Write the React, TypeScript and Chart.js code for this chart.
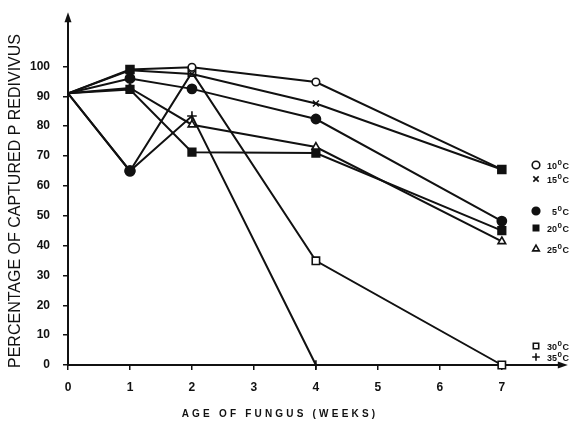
import React, { useEffect, useRef } from "react";
import { Chart, registerables } from "chart.js";
import { drawPoint } from "chart.js/helpers";

Chart.register(...registerables);

// ---- data ----
const weeks = [0, 1, 2, 4, 7];
const temp10 = [91, 99, 99.7, 94.8, 65.5];
const temp15 = [91, 98.7, 97.5, 87.6, 65.5];
const temp5 = [91, 96, 92.5, 82.4, 48.2];
const temp20 = [91, 92.3, 71.3, 71, 45];
const temp25 = [91, 92.8, 80.5, 73, 41.4];
const temp30 = [91, 65, 98, 34.9, 0];
const temp35: (number | null)[] = [91, 65, 83.4, 0, null];

const xTickValues = [0, 1, 2, 3, 4, 5, 6, 7];
const yTickValues = [0, 10, 20, 30, 40, 50, 60, 70, 80, 90, 100];

const seriesNames = ["10", "15", "5", "20", "25", "30", "35"];
const seriesValues = [temp10, temp15, temp5, temp20, temp25, temp30, temp35];

const yTitle = "PERCENTAGE OF CAPTURED P REDIVIVUS";
const xTitle = "AGE OF FUNGUS (WEEKS)";

// ---- styles ----
type Sty = { pointStyle: string; radius: number; fill: string };
const styles: Sty[] = [
  { pointStyle: "circle", radius: 3.8, fill: "#fff" },
  { pointStyle: "crossRot", radius: 4.2, fill: "#fff" },
  { pointStyle: "circle", radius: 4.6, fill: "#111" },
  { pointStyle: "rect", radius: 5.4, fill: "#111" },
  { pointStyle: "triangle", radius: 4.4, fill: "#fff" },
  { pointStyle: "rect", radius: 5.2, fill: "#fff" },
  { pointStyle: "cross", radius: 4.8, fill: "#fff" },
];
// marker overrides where several series overlap (series index - point index)
// (Chart.js paints dataset 0 last, i.e. on top)
const overlapMarks: Record<string, Sty> = {
  "0-1": { pointStyle: "rect", radius: 5.6, fill: "#111" },
  "0-4": { pointStyle: "rect", radius: 5.6, fill: "#111" },
  "5-1": { pointStyle: "circle", radius: 4.8, fill: "#111" },
  "6-1": { pointStyle: "circle", radius: 4.8, fill: "#111" },
};
const legendY = [165, 179, 211, 228, 249, 346, 357];
const INK = "#111";

function markFor(ds: number, idx: number): Sty {
  return overlapMarks[ds + "-" + idx] || styles[ds];
}

const decorPlugin = {
  id: "decor",
  afterDraw(chart: any) {
    const { ctx, chartArea } = chart;
    ctx.save();
    // axis arrows
    ctx.fillStyle = INK;
    ctx.beginPath();
    ctx.moveTo(chartArea.left, chartArea.top - 8);
    ctx.lineTo(chartArea.left - 3.5, chartArea.top + 2);
    ctx.lineTo(chartArea.left + 3.5, chartArea.top + 2);
    ctx.closePath();
    ctx.fill();
    ctx.beginPath();
    ctx.moveTo(chartArea.right + 4, chartArea.bottom);
    ctx.lineTo(chartArea.right - 6, chartArea.bottom - 3.5);
    ctx.lineTo(chartArea.right - 6, chartArea.bottom + 3.5);
    ctx.closePath();
    ctx.fill();

    // y title
    ctx.save();
    ctx.translate(16, 201);
    ctx.rotate(-Math.PI / 2);
    ctx.font = '16px "Liberation Sans", Arial, sans-serif';
    ctx.textAlign = "center";
    ctx.textBaseline = "middle";
    ctx.fillStyle = INK;
    ctx.fillText(yTitle, 0, 0);
    ctx.restore();

    // x title
    ctx.save();
    ctx.font = 'bold 10px "Liberation Sans", Arial, sans-serif';
    (ctx as any).letterSpacing = "3.2px";
    ctx.textAlign = "left";
    ctx.textBaseline = "middle";
    ctx.fillStyle = INK;
    const w = ctx.measureText(xTitle).width;
    ctx.fillText(xTitle, 280 - w / 2, 414);
    ctx.restore();

    // legend
    const right = 569;
    seriesNames.forEach((name, i) => {
      const y = legendY[i];
      const s = styles[i];
      ctx.save();
      ctx.fillStyle = s.fill;
      ctx.strokeStyle = INK;
      ctx.lineWidth = 1.6;
      drawPoint(ctx, { pointStyle: s.pointStyle as any, rotation: 0, radius: Math.min(s.radius, 3.8), borderWidth: 1.6 }, 536, y);
      ctx.restore();

      ctx.save();
      ctx.fillStyle = INK;
      ctx.textBaseline = "alphabetic";
      const mainFont = 'bold 9px "Liberation Sans", Arial, sans-serif';
      const supFont = 'bold 8px "Liberation Sans", Arial, sans-serif';
      ctx.font = mainFont;
      const wNum = ctx.measureText(name).width;
      const wC = ctx.measureText("C").width;
      ctx.font = supFont;
      const wSup = ctx.measureText("0").width;
      let x = right - (wNum + wSup + wC + 1);
      ctx.font = mainFont;
      ctx.fillText(name, x, y + 3.5);
      x += wNum + 0.5;
      ctx.font = supFont;
      ctx.fillText("0", x, y - 0.5);
      x += wSup + 0.5;
      ctx.font = mainFont;
      ctx.fillText("C", x, y + 3.5);
      ctx.restore();
    });
    ctx.restore();
  },
};

export default function App() {
  const ref = useRef<HTMLCanvasElement | null>(null);
  useEffect(() => {
    if (!ref.current) return;
    const datasets = seriesValues.map((vals, i) => ({
      label: seriesNames[i],
      data: weeks
        .map((w, j) => ({ x: w, y: vals[j] }))
        .filter((p) => p.y !== null && p.y !== undefined),
      borderColor: INK,
      borderWidth: 2,
      backgroundColor: styles[i].fill,
      pointStyle: (c: any) => markFor(i, c.dataIndex).pointStyle,
      pointRadius: (c: any) => (c.dataIndex === 0 ? 0 : markFor(i, c.dataIndex).radius),
      pointBorderWidth: 1.6,
      pointBorderColor: INK,
      pointBackgroundColor: (c: any) => markFor(i, c.dataIndex).fill,
      tension: 0,
      fill: false,
      clip: false as any,
    }));
    const tickFont = { family: '"Liberation Sans", Arial, sans-serif', size: 12, weight: "bold" as const };
    const chart = new Chart(ref.current, {
      type: "line",
      data: { datasets: datasets as any },
      plugins: [decorPlugin],
      options: {
        animation: false,
        responsive: false,
        maintainAspectRatio: false,
        layout: { padding: { left: 0, right: 5, top: 12, bottom: 0 } },
        plugins: { legend: { display: false }, tooltip: { enabled: false } },
        scales: {
          x: {
            type: "linear",
            min: 0,
            max: 8,
            afterBuildTicks: (s: any) => {
              s.ticks = xTickValues.map((v) => ({ value: v }));
            },
            afterFit: (s: any) => {
              s.height = 58;
            },
            ticks: { color: INK, font: tickFont, padding: 10, autoSkip: false, maxRotation: 0 },
            grid: { display: true, drawOnChartArea: false, drawTicks: true, tickLength: 5, color: INK, lineWidth: 1.5 },
            border: { display: true, color: INK, width: 2 },
          },
          y: {
            type: "linear",
            min: 0,
            max: 115.5,
            afterBuildTicks: (s: any) => {
              s.ticks = yTickValues.map((v) => ({ value: v }));
            },
            afterFit: (s: any) => {
              s.width = 68;
            },
            ticks: { color: INK, font: tickFont, padding: 13, autoSkip: false },
            grid: { display: true, drawOnChartArea: false, drawTicks: true, tickLength: 5, color: INK, lineWidth: 1.5 },
            border: { display: true, color: INK, width: 2 },
          },
        },
      },
    });
    return () => chart.destroy();
  }, []);
  return (
    <div style={{ position: "fixed", left: 0, top: 0, width: 571, height: 423, background: "#fff" }}>
      <canvas ref={ref} width={571} height={423} style={{ width: 571, height: 423, display: "block" }} />
    </div>
  );
}
